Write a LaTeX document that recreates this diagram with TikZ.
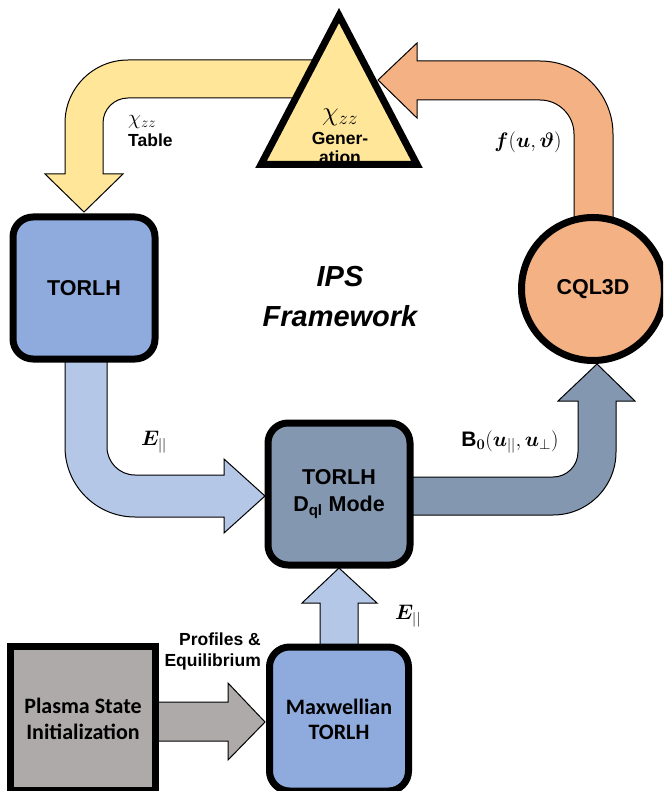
\RequirePackage{fix-cm}
\documentclass[tikz,border=0pt]{standalone}
\usepackage{amsmath,bm}
\usepackage{fontspec}
\setmainfont{Liberation Sans}
\newfontfamily\calibfont{Carlito}
\usetikzlibrary{positioning}

\definecolor{chiyellow}{HTML}{FFE699}
\definecolor{cqlorange}{HTML}{F4B183}
\definecolor{torlhblue}{HTML}{8FAADC}
\definecolor{efieldblue}{HTML}{B4C7E7}
\definecolor{dqlslate}{HTML}{8497B0}
\definecolor{plasmagray}{HTML}{AEAAAA}

\tikzset{
	blockbox/.style={draw, line width=7pt, rounded corners=20pt, minimum width=142pt, minimum height=142pt, inner sep=0pt, align=center, font=\fontsize{21.5}{27}\selectfont\bfseries},
	flow/.style={draw, line width=1pt, line join=miter},
	lbl/.style={font=\fontsize{17.5}{21}\selectfont\bfseries, align=center, inner sep=0pt},
	mlbl/.style={font=\fontsize{21}{24}\selectfont, inner sep=0pt},
}

\begin{document}
\begin{tikzpicture}[x=1pt,y=1pt]
	\clip (0,0) rectangle (663,-791);
	
	% chi table back to TORLH
	\draw[flow, fill=chiyellow] (340,-60) -- (128,-60) arc[start angle=90, end angle=180, radius=63] -- (65,-174) -- (45,-174) -- (84,-212) -- (123,-174) -- (103,-174) -- (103,-123) arc[start angle=180, end angle=90, radius=25] -- (340,-98) -- cycle;
	% E parallel into Dql mode
	\draw[flow, fill=efieldblue] (65,-355) -- (65,-447) arc[start angle=180, end angle=270, radius=70] -- (224,-517) -- (224,-533) -- (265,-496) -- (224,-459) -- (224,-475) -- (135,-475) arc[start angle=270, end angle=180, radius=28] -- (107,-355) -- cycle;
	% B0 to CQL3D
	\draw[flow, fill=dqlslate] (405,-477) -- (553,-477) arc[start angle=270, end angle=360, radius=25] -- (578,-401) -- (558,-401) -- (597,-364) -- (635,-401) -- (616,-401) -- (616,-452) arc[start angle=0, end angle=-90, radius=63] -- (405,-515) -- cycle;
	% f(u,theta) to generation
	\draw[flow, fill=cqlorange] (574,-225) -- (574,-134) arc[start angle=0, end angle=90, radius=34] -- (417,-100) -- (417,-118) -- (378,-80) -- (417,-43) -- (417,-61) -- (540,-61) arc[start angle=90, end angle=0, radius=73] -- (613,-225) -- cycle;
	% profiles
	\draw[flow, fill=plasmagray] (150,-702) -- (228,-702) -- (228,-683) -- (265,-722) -- (228,-760) -- (228,-741) -- (150,-741) -- cycle;
	% maxwellian up
	\draw[flow, fill=efieldblue] (320,-650) -- (320,-603) -- (302,-603) -- (339,-568) -- (377,-603) -- (358,-603) -- (358,-650) -- cycle;
	
	% generation triangle
	\coordinate (apex) at (339,-15.5);
	\coordinate (baseL) at (261,-164.5);
	\coordinate (baseR) at (417,-164.5);
	\draw[line width=7pt, line join=miter, fill=chiyellow] (apex) -- (baseL) -- (baseR) -- cycle;
	\node[font=\fontsize{27}{30}\selectfont, inner sep=0pt] (chigen) at (340,-117) {$\chi_{zz}$};
	\node[lbl, font=\fontsize{17.5}{19}\selectfont\bfseries] (gen) at (340,-148) {Gener-\\ation};
	
	\node[blockbox, fill=torlhblue] (torlh) at (84,-288) {TORLH};
	\node[blockbox, fill=dqlslate] (dql) at (339,-494) {TORLH\\D\textsubscript{ql} Mode};
	\node[draw, circle, line width=7pt, fill=cqlorange, minimum size=143pt, inner sep=0pt, font=\fontsize{21.5}{27}\selectfont\bfseries] (cql) at (593,-289) {CQL3D};
	\node[draw, line width=7pt, fill=plasmagray, minimum width=145pt, minimum height=144pt, inner sep=0pt, align=center, font=\fontsize{22}{26}\selectfont\calibfont\bfseries] (plasma) at (83,-718.5) {Plasma State\\Initialization};
	\node[blockbox, fill=torlhblue, minimum width=139pt, minimum height=144pt, font=\fontsize{22}{25}\selectfont\calibfont\bfseries] (maxw) at (339,-719) {Maxwellian\\TORLH};
	
	\node[font=\fontsize{29}{40}\selectfont\bfseries\itshape, align=center, inner sep=0pt] (ips) at (340,-297) {IPS\\Framework};
	
	% labels
	\node[anchor=west, align=left, inner sep=0pt] (tablbl) at (128,-131) {\fontsize{21}{20}\selectfont$\chi_{zz}$\\[4pt]\fontsize{17.5}{20}\selectfont\bfseries Table};
	\node[mlbl] (flbl) at (528,-142) {$\bm{f}(\bm{u},\bm{\vartheta})$};
	\node[mlbl] (elbl) at (154,-442) {$\bm{E}_{||}$};
	\node[mlbl] (blbl) at (510,-442) {$\mathbf{B}_{\bm{0}}(\bm{u}_{||},\bm{u}_{\perp})$};
	\node[mlbl] (elbl2) at (408,-616) {$\bm{E}_{||}$};
	\node[lbl, align=right, anchor=east, font=\fontsize{17.5}{21}\selectfont\bfseries] (proflbl) at (261,-651) {Profiles \&\\Equilibrium};
\end{tikzpicture}
\end{document}
